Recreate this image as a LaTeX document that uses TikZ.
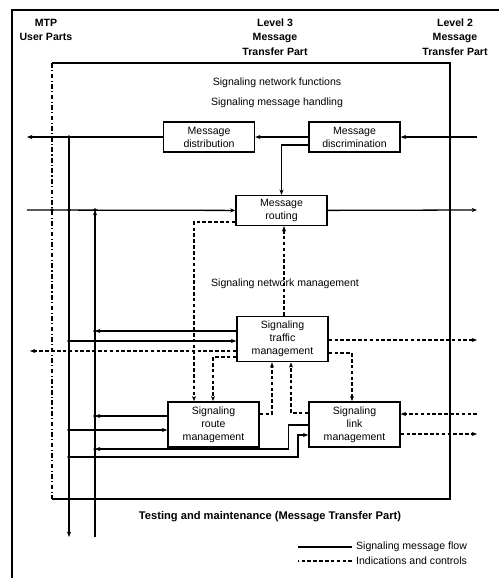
\documentclass[tikz,border=0pt]{standalone}
\usepackage{fontspec}
\setmainfont{Liberation Sans}
\usetikzlibrary{arrows.meta}

\begin{document}
\begin{tikzpicture}[
        x=0.03cm, y=-0.03cm,
        font=\fontsize{9}{11}\selectfont, >={Stealth[length=4.5pt,width=3.5pt]},
        box/.style={draw, line width=1.2pt, align=center, minimum width=2.73cm, minimum height=0.9cm, inner sep=1pt},
        tallbox/.style={box, minimum height=1.36cm},
        hdr/.style={align=center, font=\fontsize{9}{12.3}\selectfont\bfseries},
        flow/.style={line width=1.1pt},
        ctrl/.style={line width=0.9pt, dash pattern=on 3pt off 2pt}]
        \useasboundingbox (0,0) rectangle (499,580);
        % frame and level headings
        \draw[line width=2.5pt] (12,578) -- (12,10) -- (499,10);
        \node[hdr] (usr) at (46,30) {MTP\\User Parts};
        \node[hdr] (lv3) at (275,37) {Level 3\\Message\\Transfer Part};
        \node[hdr] (lv2) at (455,37) {Level 2\\Message\\Transfer Part};
        % signaling network functions area
        \draw[line width=1.2pt] (52,63) -- (450,63) -- (450,499) -- (52,499);
        \draw[line width=0.9pt, dash pattern=on 4pt off 2pt on 1pt off 2pt] (52,63) -- (52,499);
        \node (snf) at (277,83) {Signaling network functions};
        \node (smh) at (277,103) {Signaling message handling};
        \node (snm) at (285,284) {Signaling network management};
        \node[font=\fontsize{9.5}{11}\selectfont\bfseries] (tmm) at (270,517) {Testing and maintenance (Message Transfer Part)};
        % function blocks
        \node[box] (dist) at (209,137) {Message\\distribution};
        \node[box] (disc) at (354.5,137) {Message\\discrimination};
        \node[box] (rout) at (281.5,210.5) {Message\\routing};
        \node[tallbox] (traf) at (282.5,339) {Signaling\\traffic\\management};
        \node[tallbox] (rte) at (213.5,424.5) {Signaling\\route\\management};
        \node[tallbox] (lnk) at (354.5,424.5) {Signaling\\link\\management};
        % free ends
        \coordinate (lft1) at (27,137);
        \coordinate (lft2) at (27,210);
        \coordinate (lft3) at (30,351);
        \coordinate (rgt1) at (477,137);
        \coordinate (rgt2) at (477,210);
        \coordinate (rgt3) at (477,340);
        \coordinate (rgt4) at (477,414);
        \coordinate (rgt5) at (477,434);
        \coordinate (topB) at (69,137);
        \coordinate (botB) at (69,537);
        \coordinate (topC) at (95,210);
        \coordinate (botC) at (95,537);
        % signaling message flow
        \draw[flow,->] (dist) -- (lft1);
        \draw[flow,->] (disc) -- (dist);
        \draw[flow,->] (rgt1) -- (disc);
        \draw[flow,->] (disc.west |- 0,145) -| (rout);
        \draw[flow,->] (lft2) -- (rout);
        \draw[flow,->] (rout) -- (rgt2);
        \draw[flow,->] (topB) -- (botB);
        \draw[flow,->] (botC) -- (topC);
        \draw[flow,->] (traf.west |- 0,331) -- (topC |- 0,331);
        \draw[flow,->] (topB |- 0,341) -- (traf.west |- 0,341);
        \draw[flow,->] (rte.west |- 0,416) -- (topC |- 0,416);
        \draw[flow,->] (topB |- 0,430) -- (rte.west |- 0,430);
        \draw[flow,->] (lnk.west |- 0,425) -- ++(-20,0) |- (topC |- 0,449);
        \draw[flow,->] (topB |- 0,457) -- ++(229,0) |- (lnk.west |- 0,435);
        \foreach \p in {(52,210),(69,137),(69,210),(95,210),(69,341),(69,430),(69,457),(95,331),(95,416),(95,449)}
            \fill \p circle (1.5pt);
        % indications and controls
        \draw[ctrl,->] (traf.north -| 284,0) -- (rout.south -| 284,0);
        \draw[ctrl,->] (rout.west |- 0,222) -| (rte.north -| 194,0);
        \draw[ctrl,->] (traf.west |- 0,351) -- (lft3);
        \draw[ctrl,->] (traf.west |- 0,357) -| (rte.north -| 213,0);
        \draw[ctrl,->] (traf.east |- 0,340) -- (rgt3);
        \draw[ctrl,->] (traf.east |- 0,353) -| (lnk.north -| 352,0);
        \draw[ctrl,->] (rte.east |- 0,414) -| (traf.south -| 272,0);
        \draw[ctrl,->] (lnk.west |- 0,413) -| (traf.south -| 291,0);
        \draw[ctrl,->] (rgt4) -- (lnk.east |- 0,414);
        \draw[ctrl,->] (lnk.east |- 0,434) -- (rgt5);
        % legend
        \node[anchor=west] (lg1) at (352,547) {Signaling message flow};
        \node[anchor=west] (lg2) at (352,561) {Indications and controls};
        \draw[flow] (lg1.west) -- ++(-54,0);
        \draw[ctrl] (lg2.west) -- ++(-54,0);
    \end{tikzpicture}
\end{document}
